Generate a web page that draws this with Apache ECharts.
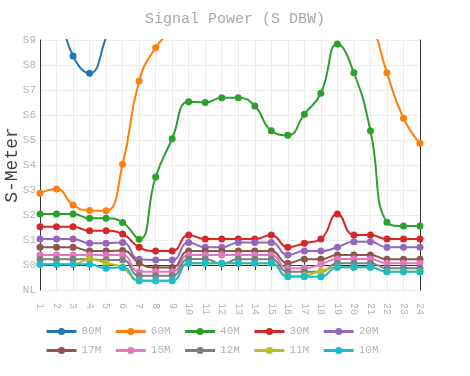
<!DOCTYPE html>
<html>
<head>
<meta charset="utf-8">
<script src="https://cdn.jsdelivr.net/npm/echarts@6/dist/echarts.min.js"></script>
<style>
  html, body { margin: 0; padding: 0; background: #fff; }
  #chart { width: 470px; height: 376px; }
</style>
</head>
<body>
<div id="chart"></div>
<script>
// --- données ---
const hours = ['1','2','3','4','5','6','7','8','9','10','11','12','13','14','15','16','17','18','19','20','21','22','23','24'];
const yTickLabels = ['NL','S0','S1','S2','S3','S4','S5','S6','S7','S8','S9'];
const bandNames = ['80M','60M','40M','30M','20M','17M','15M','12M','11M','10M'];
const bandColors = ['#1f77b4','#ff7f0e','#2ca02c','#d62728','#9467bd','#8c564b','#e377c2','#7f7f7f','#bcbd22','#17becf'];

const band80 = [11.5, 10.4, 8.36, 7.67, 9.1, 11, 12, 12.5, 13, 13, 13, 13, 13, 13, 13, 13, 13, 13, 13, 13, 13, 12.5, 12, 12];
const band60 = [2.87, 3.04, 2.4, 2.18, 2.17, 4.03, 7.36, 8.69, 9.4, 10, 10.5, 11, 11, 11, 11, 11, 11, 11, 11, 10.8, 9.8, 7.69, 5.87, 4.87];
const band40 = [2.04, 2.04, 2.04, 1.87, 1.87, 1.7, 1.03, 3.52, 5.05, 6.53, 6.5, 6.69, 6.69, 6.36, 5.37, 5.19, 6.03, 6.87, 8.84, 7.69, 5.37, 1.71, 1.56, 1.56];
const band30 = [1.53, 1.53, 1.53, 1.37, 1.37, 1.24, 0.71, 0.56, 0.56, 1.2, 1.04, 1.04, 1.04, 1.04, 1.2, 0.71, 0.87, 1.04, 2.04, 1.2, 1.2, 1.04, 1.04, 1.04];
const band20 = [1.04, 1.04, 1.04, 0.87, 0.87, 0.9, 0.23, 0.2, 0.2, 0.9, 0.71, 0.71, 0.9, 0.9, 0.9, 0.4, 0.56, 0.56, 0.71, 0.93, 0.93, 0.71, 0.71, 0.71];
const band17 = [0.71, 0.71, 0.71, 0.56, 0.56, 0.58, 0.07, -0.1, -0.1, 0.56, 0.56, 0.56, 0.56, 0.56, 0.56, 0.07, 0.23, 0.23, 0.4, 0.4, 0.4, 0.23, 0.23, 0.23];
const band15 = [0.4, 0.4, 0.4, 0.4, 0.4, 0.4, -0.27, -0.27, -0.27, 0.4, 0.4, 0.4, 0.4, 0.4, 0.4, -0.13, -0.13, 0.03, 0.24, 0.24, 0.24, 0.07, 0.07, 0.07];
const band12 = [0.23, 0.23, 0.23, 0.23, 0.2, 0.2, -0.43, -0.43, -0.43, 0.24, 0.24, 0.05, 0.23, 0.23, 0.23, -0.27, -0.27, -0.27, 0.07, 0.07, 0.07, -0.13, -0.13, -0.13];
const band11 = [0.03, 0.03, 0.03, 0.23, 0.07, -0.1, -0.63, -0.63, -0.63, 0.07, 0.07, 0.07, 0.07, 0.07, 0.07, -0.45, -0.42, -0.24, -0.09, -0.09, -0.09, -0.27, -0.27, -0.27];
const band10 = [0.03, 0.03, 0.03, 0.03, -0.13, -0.1, -0.63, -0.63, -0.63, 0.07, 0.07, 0.07, 0.07, 0.07, 0.07, -0.47, -0.47, -0.47, -0.09, -0.09, -0.09, -0.27, -0.27, -0.27];

const bandValues = [band80, band60, band40, band30, band20, band17, band15, band12, band11, band10];

const mono = 'Liberation Mono';
const labelGrey = '#b4b4b4';

const series = bandNames.map((name, i) => ({
  name: name,
  type: 'line',
  smooth: true,
  symbol: 'circle',
  symbolSize: 7,
  showSymbol: true,
  clip: true,
  color: bandColors[i],
  lineStyle: { width: 2 },
  data: bandValues[i]
}));

const legendBase = {
  orient: 'horizontal',
  left: 40,
  itemWidth: 30,
  itemHeight: 9,
  itemGap: 13,
  textStyle: { fontFamily: mono, fontSize: 11, color: labelGrey },
  lineStyle: { width: 3 }
};

const option = {
  animation: false,
  color: bandColors,
  title: {
    text: 'Signal Power (S DBW)',
    left: 'center',
    top: 7,
    textStyle: { fontFamily: mono, fontSize: 15, fontWeight: 'normal', color: '#aaaaaa' }
  },
  legend: [
    Object.assign({}, legendBase, { top: 321, data: bandNames.slice(0, 5) }),
    Object.assign({}, legendBase, { top: 340, data: bandNames.slice(5) })
  ],
  grid: { left: 40, right: 50, top: 40, bottom: 86, containLabel: false, outerBoundsMode: 'none' },
  xAxis: [
    {
      type: 'category',
      data: hours,
      boundaryGap: false,
      position: 'bottom',
      axisLine: { show: true, lineStyle: { color: '#333', width: 1 } },
      axisTick: { show: true, length: 5, lineStyle: { color: '#333' } },
      axisLabel: { rotate: -90, margin: 13, fontFamily: mono, fontSize: 10, color: labelGrey, interval: 0 },
      splitLine: { show: true, lineStyle: { color: '#ececec', width: 1 } }
    },
    {
      type: 'category',
      data: hours,
      boundaryGap: false,
      position: 'top',
      axisLine: { show: true, lineStyle: { color: '#333', width: 1 } },
      axisTick: { show: true, length: 5, lineStyle: { color: '#333' } },
      axisLabel: { show: false },
      splitLine: { show: false }
    }
  ],
  yAxis: [
    {
      type: 'value',
      min: -1,
      max: 9,
      interval: 1,
      name: 'S-Meter',
      nameLocation: 'middle',
      nameRotate: 90,
      nameGap: 19,
      nameMoveOverlap: false,
      nameTextStyle: { fontFamily: mono, fontSize: 18, color: '#444' },
      axisLine: { show: true, lineStyle: { color: '#333', width: 1 } },
      axisTick: { show: false },
      axisLabel: {
        margin: 4,
        fontFamily: mono,
        fontSize: 11,
        color: labelGrey,
        formatter: v => yTickLabels[Math.round(v) + 1]
      },
      splitLine: { show: true, lineStyle: { color: '#ececec', width: 1 } }
    },
    {
      type: 'value',
      min: -1,
      max: 9,
      interval: 1,
      position: 'right',
      axisLine: { show: true, lineStyle: { color: '#333', width: 1 } },
      axisTick: { show: false },
      axisLabel: { show: false },
      splitLine: { show: false }
    }
  ],
  series: series
};

const chart = echarts.init(document.getElementById('chart'), null, { renderer: 'canvas' });
chart.setOption(option);
</script>
</body>
</html>
